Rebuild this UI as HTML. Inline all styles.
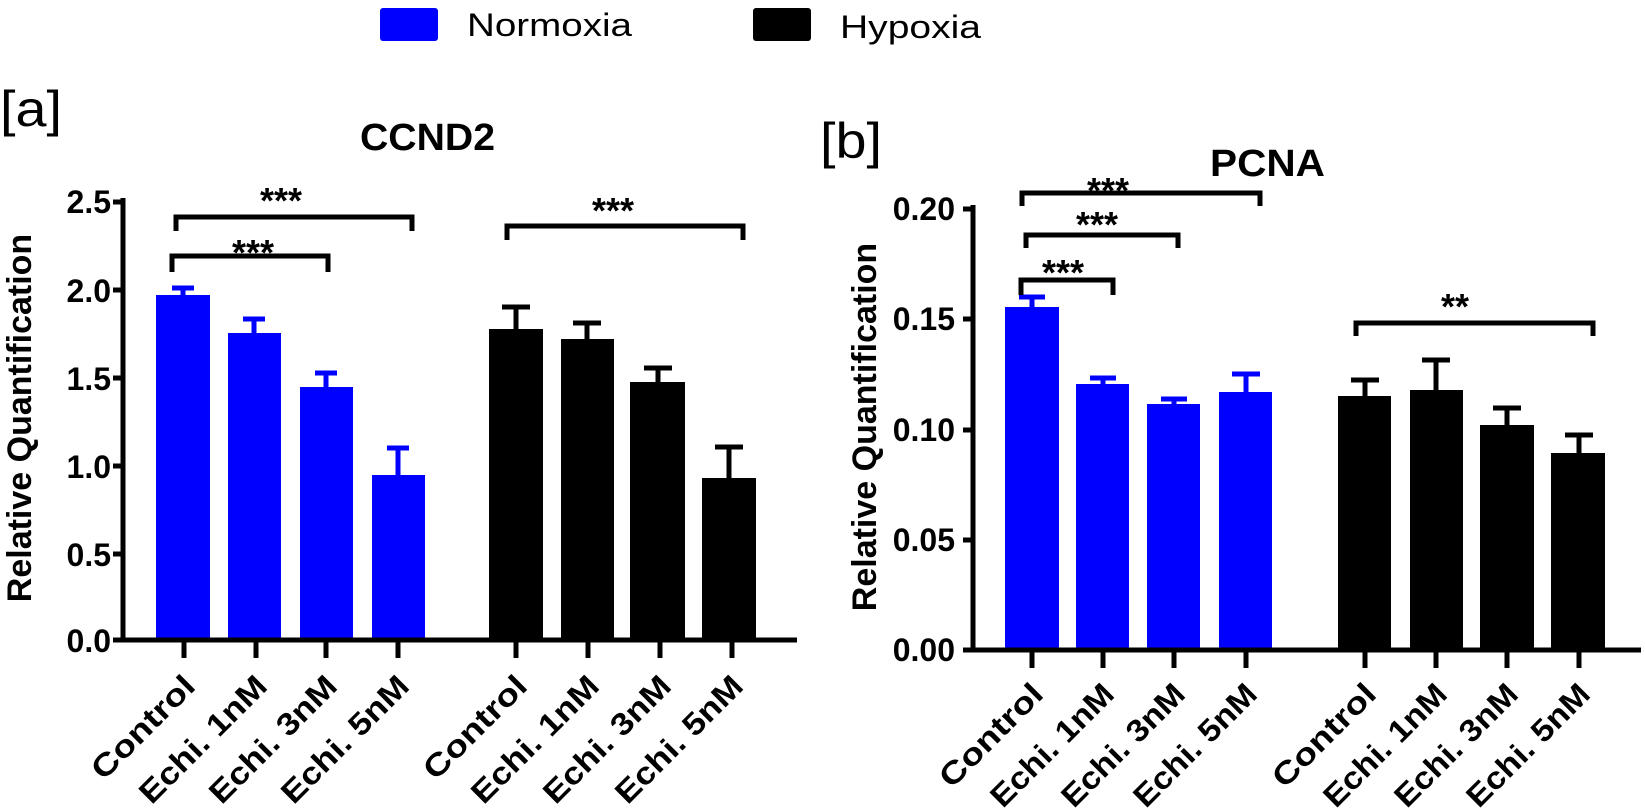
<!DOCTYPE html>
<html><head><meta charset="utf-8"><style>html,body{margin:0;padding:0;background:#fff}svg{display:block}</style></head>
<body>
<svg width="1645" height="809" viewBox="0 0 1645 809" xmlns="http://www.w3.org/2000/svg" font-family="Liberation Sans, Arial, sans-serif">
<rect width="1645" height="809" fill="#fff"/>
<!-- Legend -->
<rect x="380" y="8" width="58" height="33" rx="3" fill="#0000ff"/>
<text x="467" y="36" font-size="32" textLength="165" lengthAdjust="spacingAndGlyphs">Normoxia</text>
<rect x="753" y="8" width="58" height="33" rx="3" fill="#000"/>
<text x="840" y="38" font-size="32" textLength="141" lengthAdjust="spacingAndGlyphs">Hypoxia</text>
<!-- labels -->
<text x="0" y="126" font-size="50" textLength="62" lengthAdjust="spacingAndGlyphs">[a]</text>
<text x="820" y="158" font-size="50" textLength="62" lengthAdjust="spacingAndGlyphs">[b]</text>
<text x="360" y="150" font-size="38" font-weight="bold" textLength="135" lengthAdjust="spacingAndGlyphs">CCND2</text>
<text x="1210" y="176" font-size="38" font-weight="bold" textLength="115" lengthAdjust="spacingAndGlyphs">PCNA</text>

<!-- Panel A -->
<g font-weight="bold">
<text transform="translate(31,418) rotate(-90)" font-size="34" text-anchor="middle">Relative Quantification</text>
<g font-size="32" text-anchor="end">
<text x="111" y="213">2.5</text><text x="111" y="302">2.0</text><text x="111" y="390">1.5</text>
<text x="111" y="478">1.0</text><text x="111" y="566">0.5</text><text x="111" y="652">0.0</text>
</g>
</g>
<g fill="#0000ff">
<rect x="156" y="295" width="54" height="345"/><rect x="228" y="333" width="53" height="307"/>
<rect x="300" y="387" width="53" height="253"/><rect x="372" y="475" width="53" height="165"/>
</g>
<g fill="#000">
<rect x="489" y="329" width="54" height="311"/><rect x="561" y="339" width="53" height="301"/>
<rect x="630" y="382" width="55" height="258"/><rect x="702" y="478" width="54" height="162"/>
</g>
<g stroke-width="5" fill="none">
<path d="M183 295V288M172 288H194M254 333V319M243 319H265M326 387V373M315 373H337M398 475V448M387 448H409" stroke="#0000ff"/>
<path d="M516 329V307M502 307H530M587 339V323M573 323H601M658 382V368M644 368H672M729 478V447M715 447H743" stroke="#000"/>
<path d="M123 198V640H797M123 202H113M123 290H113M123 378H113M123 466H113M123 554H113M123 640H113" stroke="#000"/>
<path d="M184 640V658M256 640V658M326 640V658M398 640V658M516 640V658M588 640V658M660 640V658M732 640V658" stroke="#000"/>
<path d="M176 231V217H412V231M172 272V256H328V272M507 240V226H743V240" stroke="#000" stroke-width="5"/>
</g>
<g font-size="36" font-weight="bold" text-anchor="middle">
<text x="281" y="213">***</text><text x="253" y="265">***</text><text x="613" y="223">***</text>
</g>

<!-- Panel B -->
<g font-weight="bold">
<text transform="translate(876,427) rotate(-90)" font-size="34" text-anchor="middle">Relative Quantification</text>
<g font-size="32" text-anchor="end">
<text x="955" y="220">0.20</text><text x="955" y="330">0.15</text><text x="955" y="441">0.10</text>
<text x="955" y="551">0.05</text><text x="955" y="661">0.00</text>
</g>
</g>
<g fill="#0000ff">
<rect x="1005" y="307" width="54" height="343"/><rect x="1076" y="384" width="53" height="266"/>
<rect x="1147" y="404" width="53" height="246"/><rect x="1219" y="392" width="53" height="258"/>
</g>
<g fill="#000">
<rect x="1338" y="396" width="53" height="254"/><rect x="1410" y="390" width="53" height="260"/>
<rect x="1480" y="425" width="54" height="225"/><rect x="1551" y="453" width="54" height="197"/>
</g>
<g stroke-width="5" fill="none">
<path d="M1032 307V297M1019 297H1045M1103 384V378M1090 378H1116M1174 404V399M1161 399H1187M1246 392V374M1232 374H1260" stroke="#0000ff"/>
<path d="M1365 396V380M1351 380H1379M1436 390V360M1422 360H1450M1507 425V408M1493 408H1521M1579 453V435M1565 435H1593" stroke="#000"/>
<path d="M973 205V650H1641M973 209H963M973 319H963M973 430H963M973 540H963M973 650H963" stroke="#000"/>
<path d="M1032 650V668M1103 650V668M1174 650V668M1246 650V668M1365 650V668M1436 650V668M1507 650V668M1579 650V668" stroke="#000"/>
<path d="M1022 206V193H1260V206M1026 248V235H1178V248M1021 295V280H1113V295M1356 336V323H1593V336" stroke="#000" stroke-width="5"/>
</g>
<g font-size="36" font-weight="bold" text-anchor="middle">
<text x="1108" y="203">***</text><text x="1097" y="237">***</text><text x="1063" y="285">***</text><text x="1455" y="319">**</text>
</g>

<!-- rotated x labels -->
<g font-size="31" font-weight="bold" text-anchor="end">
<text transform="translate(197,688) rotate(-45)" textLength="132" lengthAdjust="spacingAndGlyphs">Control</text>
<text transform="translate(269,688) rotate(-45)" textLength="166" lengthAdjust="spacingAndGlyphs">Echi.  1nM</text>
<text transform="translate(339,688) rotate(-45)" textLength="166" lengthAdjust="spacingAndGlyphs">Echi.  3nM</text>
<text transform="translate(411,688) rotate(-45)" textLength="166" lengthAdjust="spacingAndGlyphs">Echi.  5nM</text>
<text transform="translate(529,688) rotate(-45)" textLength="132" lengthAdjust="spacingAndGlyphs">Control</text>
<text transform="translate(601,688) rotate(-45)" textLength="166" lengthAdjust="spacingAndGlyphs">Echi.  1nM</text>
<text transform="translate(673,688) rotate(-45)" textLength="166" lengthAdjust="spacingAndGlyphs">Echi.  3nM</text>
<text transform="translate(745,688) rotate(-45)" textLength="166" lengthAdjust="spacingAndGlyphs">Echi.  5nM</text>
<text transform="translate(1045,696) rotate(-45)" textLength="132" lengthAdjust="spacingAndGlyphs">Control</text>
<text transform="translate(1116,696) rotate(-45)" textLength="160" lengthAdjust="spacingAndGlyphs">Echi.  1nM</text>
<text transform="translate(1187,696) rotate(-45)" textLength="160" lengthAdjust="spacingAndGlyphs">Echi.  3nM</text>
<text transform="translate(1259,696) rotate(-45)" textLength="160" lengthAdjust="spacingAndGlyphs">Echi.  5nM</text>
<text transform="translate(1378,696) rotate(-45)" textLength="132" lengthAdjust="spacingAndGlyphs">Control</text>
<text transform="translate(1449,696) rotate(-45)" textLength="160" lengthAdjust="spacingAndGlyphs">Echi.  1nM</text>
<text transform="translate(1520,696) rotate(-45)" textLength="160" lengthAdjust="spacingAndGlyphs">Echi.  3nM</text>
<text transform="translate(1592,696) rotate(-45)" textLength="160" lengthAdjust="spacingAndGlyphs">Echi.  5nM</text>
</g>
</svg>
</body></html>
